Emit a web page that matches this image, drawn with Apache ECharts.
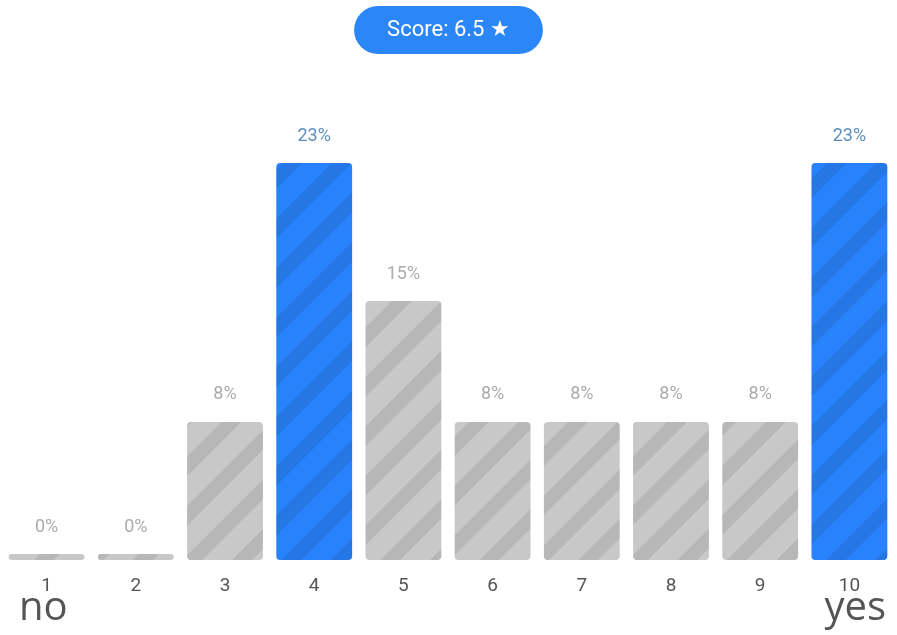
<!DOCTYPE html>
<html>
<head>
<meta charset="utf-8">
<script src="https://cdn.jsdelivr.net/npm/echarts@6/dist/echarts.min.js"></script>
<style>
  html, body { margin: 0; padding: 0; background: #fff; }
  #chart { width: 897px; height: 635px; }
</style>
</head>
<body>
<div id="chart"></div>
<script>
// Rating scale 1..10 and share of answers (%) per rating
const categories = ['1', '2', '3', '4', '5', '6', '7', '8', '9', '10'];
const shares = [0, 0, 8, 23, 15, 8, 8, 8, 8, 23];
const scoreText = 'Score: 6.5 \u2605';
const lowEndLabel = 'no';
const highEndLabel = 'yes';

const topShare = Math.max(...shares);
const grey = '#c8c8c8';
const blue = '#2882fb';

// diagonal hatching drawn over every bar
const stripes = {
  symbol: 'rect',
  color: 'rgba(0,0,0,0.085)',
  dashArrayX: [1, 0],
  dashArrayY: [14, 21],
  rotation: -Math.PI / 4
};

const chart = echarts.init(document.getElementById('chart'));
chart.setOption({
  animation: false,
  title: {
    text: scoreText,
    left: 'center',
    top: 6,
    backgroundColor: '#2b86f8',
    borderRadius: 24,
    padding: [13, 33],
    textStyle: {
      color: '#fff',
      fontFamily: 'Roboto',
      fontWeight: 'normal',
      fontSize: 22,
      lineHeight: 22
    }
  },
  grid: { left: 2, right: 3, top: 163, bottom: 75, containLabel: false },
  xAxis: {
    type: 'category',
    data: categories,
    axisLine: { show: false },
    axisTick: { show: false },
    axisLabel: {
      color: '#555',
      fontFamily: 'Roboto',
      fontSize: 19,
      margin: 17
    }
  },
  yAxis: {
    type: 'value',
    min: 0,
    max: topShare,
    show: false,
    splitLine: { show: false }
  },
  series: [{
    type: 'bar',
    barCategoryGap: '15%',
    barMinHeight: 6,
    data: shares.map(v => {
      const hi = v === topShare;
      return {
        value: v,
        itemStyle: { color: hi ? blue : grey, borderRadius: 4, decal: stripes },
        label: { color: hi ? '#5b8fbf' : '#ababab' }
      };
    }),
    label: {
      show: true,
      position: 'top',
      distance: 18,
      fontFamily: 'Roboto',
      fontSize: 18,
      formatter: p => p.value + '%'
    }
  }],
  graphic: [
    {
      type: 'text', left: 19, top: 589,
      style: { text: lowEndLabel, fontFamily: 'Open Sans', fontSize: 40, fill: '#555' }
    },
    {
      type: 'text', right: 11, top: 589,
      style: { text: highEndLabel, fontFamily: 'Open Sans', fontSize: 40, fill: '#555' }
    }
  ]
});
</script>
</body>
</html>
